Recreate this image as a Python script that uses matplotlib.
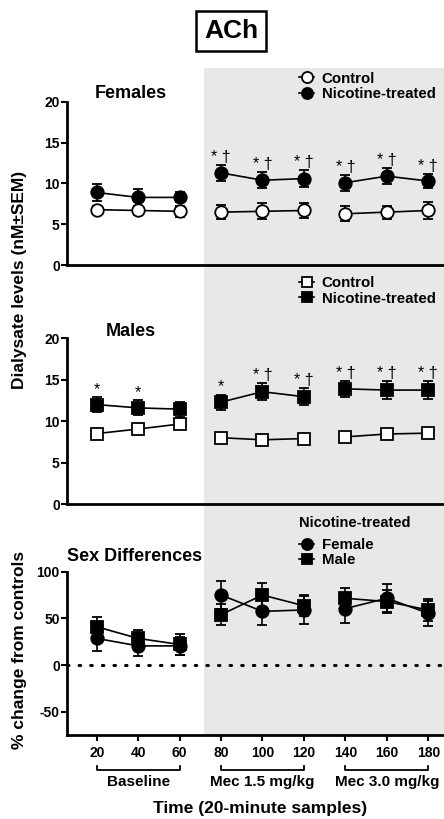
import matplotlib
matplotlib.use('Agg')
import matplotlib.pyplot as plt
from matplotlib.patches import Rectangle
from matplotlib.lines import Line2D
import numpy as np

plt.rcParams['font.family'] = ['Liberation Sans', 'DejaVu Sans']
plt.rcParams['font.weight'] = 'bold'
plt.rcParams['axes.labelweight'] = 'bold'
plt.rcParams['axes.unicode_minus'] = False

# sample times (min)
times = [20, 40, 60, 80, 100, 120, 140, 160, 180]
groups = [(0, 3), (3, 6), (6, 9)]

# Females, ACh (nM +- SEM)
f_ctrl = [6.8, 6.7, 6.6, 6.5, 6.6, 6.7, 6.3, 6.5, 6.7]
f_ctrl_err = [0.4, 0.5, 0.7, 0.9, 1.0, 0.9, 0.9, 0.8, 1.0]
f_nic = [8.9, 8.3, 8.3, 11.3, 10.4, 10.6, 10.1, 10.9, 10.3]
f_nic_err = [1.0, 1.0, 0.6, 1.0, 1.0, 1.0, 1.0, 1.0, 0.9]
f_marks = ['', '', '', '* †', '* †', '* †', '* †', '* †', '* †']

# Males
m_ctrl = [8.5, 9.05, 9.65, 8.0, 7.75, 7.9, 8.1, 8.45, 8.55]
m_ctrl_err = [0.3, 0.5, 0.6, 0.4, 0.3, 0.3, 0.3, 0.3, 0.3]
m_nic = [12.0, 11.6, 11.45, 12.3, 13.55, 12.95, 13.9, 13.75, 13.75]
m_nic_err = [0.9, 0.9, 0.9, 0.9, 1.0, 1.0, 1.0, 1.1, 1.05]
m_marks = ['*', '*', '', '*', '* †', '* †', '* †', '* †', '* †']

# Sex differences, % change from controls
pct_f = [28.5, 20.5, 20.5, 75, 57.5, 59, 60.5, 71.5, 55.5]
pct_f_err = [13, 11, 9.5, 15, 15, 15, 15, 15, 13.5]
pct_m = [41, 28.5, 22, 54, 75, 63.5, 71.5, 68, 59]
pct_m_err = [10.5, 8.5, 11.5, 11.5, 12.5, 11.5, 11.5, 12, 12]

phase_labels = ['Baseline', 'Mec 1.5 mg/kg', 'Mec 3.0 mg/kg']

W, H = 444, 819
fig = plt.figure(figsize=(W / 100, H / 100), dpi=100)

# shaded mecamylamine period spanning all panels
fig.patches.append(Rectangle((204 / W, 1 - 735 / H), 1 - 204 / W, (735 - 68) / H,
                             transform=fig.transFigure, facecolor='#e8e8e8',
                             edgecolor='none', zorder=-5))

xlim = (5.5, 187.6)
left = 66.7 / W
width = 1 - left


def make_ax(top_px, bot_px):
    ax = fig.add_axes([left, 1 - bot_px / H, width, (bot_px - top_px) / H])
    ax.set_facecolor('none')
    ax.set_zorder(2)
    for s in ['top', 'right']:
        ax.spines[s].set_visible(False)
    for s in ['left', 'bottom']:
        ax.spines[s].set_linewidth(2.0)
    ax.set_xlim(*xlim)
    ax.tick_params(axis='y', length=4, width=1.5, labelsize=10, pad=1)
    return ax


def bold_ticks(ax):
    for lab in ax.get_yticklabels() + ax.get_xticklabels():
        lab.set_fontweight('bold')


def plot_series(ax, y, err, marker, filled):
    for a, b in groups:
        ax.errorbar(times[a:b], y[a:b], yerr=err[a:b], color='black', lw=1.2,
                    marker=marker, ms=9 if marker == 'o' else 8.5,
                    mfc='black' if filled else 'white', mec='black', mew=1.3,
                    capsize=3.5, capthick=1.2, elinewidth=1.2, zorder=3)


def handle(marker, filled):
    return Line2D([], [], color='black', lw=1.2, marker=marker,
                  ms=8 if marker == 'o' else 7.5,
                  mfc='black' if filled else 'white', mec='black', mew=1.3)


def add_marks(ax, y, err, marks, off):
    for t, v, e, m in zip(times, y, err, marks):
        if m:
            ax.text(t, v + e + off, m, ha='center', va='bottom', fontsize=11.5,
                    fontweight='normal')


leg_kw = dict(loc='upper left', frameon=False, fontsize=10.8, handlelength=1.0,
              handletextpad=0.5, labelspacing=0.08, borderaxespad=0)

# Females
ax1 = make_ax(101.7, 265.3)
ax1.set_ylim(0, 20)
ax1.set_yticks([0, 5, 10, 15, 20])
ax1.set_xticks([])
plot_series(ax1, f_ctrl, f_ctrl_err, 'o', False)
plot_series(ax1, f_nic, f_nic_err, 'o', True)
add_marks(ax1, f_nic, f_nic_err, f_marks, 0.0)
ax1.text(0.17, 1.0, 'Females', transform=ax1.transAxes, ha='center',
         va='bottom', fontsize=13, fontweight='bold')
ax1.legend([handle('o', False), handle('o', True)], ['Control', 'Nicotine-treated'],
           bbox_to_anchor=(0.6, 1.22), **leg_kw)
bold_ticks(ax1)

# Males
ax2 = make_ax(338.3, 504)
ax2.set_ylim(0, 20)
ax2.set_yticks([0, 5, 10, 15, 20])
ax2.set_xticks([])
plot_series(ax2, m_ctrl, m_ctrl_err, 's', False)
plot_series(ax2, m_nic, m_nic_err, 's', True)
add_marks(ax2, m_nic, m_nic_err, m_marks, 0.0)
ax2.text(0.17, 0.99, 'Males', transform=ax2.transAxes, ha='center',
         va='bottom', fontsize=13, fontweight='bold')
ax2.legend([handle('s', False), handle('s', True)], ['Control', 'Nicotine-treated'],
           bbox_to_anchor=(0.6, 1.41), **leg_kw)
bold_ticks(ax2)

# Sex differences
ax3 = make_ax(571.7, 735)
ax3.set_ylim(-75, 100)
ax3.set_yticks([-50, 0, 50, 100])
ax3.set_xticks(times)
ax3.tick_params(axis='x', length=4, width=1.5, labelsize=10, pad=4)
ax3.axhline(0, color='black', lw=2.2, ls=(0, (0.5, 3.3)), dash_capstyle='round',
            zorder=2)
plot_series(ax3, pct_f, pct_f_err, 'o', True)
plot_series(ax3, pct_m, pct_m_err, 's', True)
ax3.text(0.0, 1.04, 'Sex Differences', transform=ax3.transAxes, ha='left',
         va='bottom', fontsize=13, fontweight='bold')
leg = ax3.legend([handle('o', True), handle('s', True)], ['Female', 'Male'],
                 bbox_to_anchor=(0.6, 1.38), title='Nicotine-treated',
                 title_fontproperties={'weight': 'bold', 'size': 10.5}, **leg_kw)
leg._legend_box.align = 'left'
leg._legend_box.sep = 6
bold_ticks(ax3)

# phase brackets under x axis
for (a, b), lab in zip(groups, phase_labels):
    x0, x1 = times[a], times[b - 1]
    ax3.plot([x0, x0, x1, x1], [-0.19, -0.215, -0.215, -0.19],
             transform=ax3.get_xaxis_transform(), color='black', lw=1.3,
             clip_on=False)
    ax3.text((x0 + x1) / 2, -0.245, lab, transform=ax3.get_xaxis_transform(),
             ha='center', va='top', fontsize=11, fontweight='bold')

fig.text(0.585, 1 - 808 / H, 'Time (20-minute samples)', ha='center',
         va='center', fontsize=12.5, fontweight='bold')
fig.text(20 / W, 1 - 280 / H, 'Dialysate levels (nM±SEM)', rotation=90,
         ha='center', va='center', fontsize=12.5, fontweight='bold')
fig.text(20 / W, 1 - 650 / H, '% change from controls', rotation=90,
         ha='center', va='center', fontsize=12.5, fontweight='bold')

fig.text(231 / W, 1 - 31 / H, 'ACh', ha='center', va='center', fontsize=19,
         fontweight='bold',
         bbox=dict(boxstyle='square,pad=0.3', facecolor='white',
                   edgecolor='black', lw=1.8))

fig.savefig('out.png', dpi=100)
